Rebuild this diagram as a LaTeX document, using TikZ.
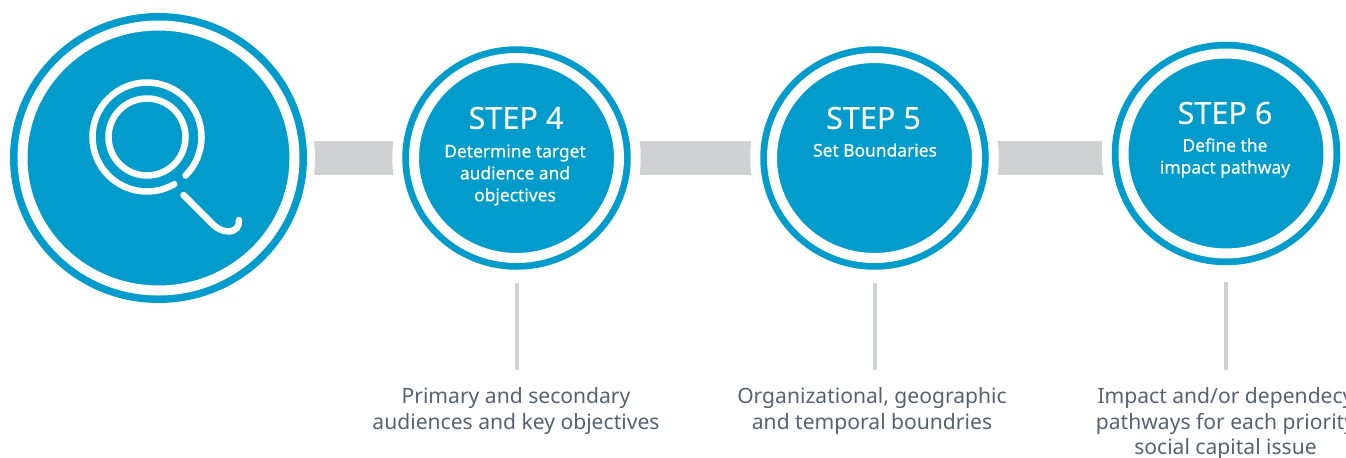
\documentclass[tikz,border=0pt]{standalone}
\usepackage{fontspec}
\usepackage{xcolor}
\usepackage{tikz}
\usetikzlibrary{backgrounds,shapes.geometric}
\setmainfont{Noto Sans}
\newfontfamily\subfont[FakeBold=0.4]{Noto Sans}
\newfontfamily\titlefont[FakeBold=0.15]{Noto Sans}
\definecolor{stepblue}{HTML}{029CCC}
\definecolor{bargray}{HTML}{D0D1D3}
\definecolor{captiongray}{HTML}{566270}
\tikzset{
	stepnode/.style={ellipse,inner sep=0,outer sep=0,minimum width=4.1cm,minimum height=4cm,fill=stepblue,draw=white,line width=0.2cm,
		preaction={draw=white,line width=0.87cm},preaction={draw=stepblue,line width=0.47cm}},
	bignode/.style={ellipse,inner sep=0,outer sep=0,minimum width=5.44cm,minimum height=5.3cm,fill=stepblue,draw=white,line width=0.2cm,
		preaction={draw=white,line width=0.82cm},preaction={draw=stepblue,line width=0.5cm}},
	linkbar/.style={bargray,line width=0.68cm},
	stemline/.style={bargray,line width=0.08cm,shorten <=0.5cm,shorten >=0.35cm},
	steptitle/.style={white,font=\titlefont\fontsize{17.4}{19}\selectfont},
	stepsub/.style={white,align=center,font=\subfont\fontsize{9.9}{12.5}\selectfont},
	captiontext/.style={captiongray,align=center,anchor=north,inner sep=0,font=\fontsize{12}{14.45}\selectfont},
	lensline/.style={white,line width=0.13cm,line cap=round}
}
\begin{document}
\begin{tikzpicture}
	\useasboundingbox (0,0) rectangle (26.92,9.14);
	% Circles
	\node [bignode] (lens) at (3.17,5.98) {};
	\node [stepnode] (stepfour) at (10.33,5.98) {};
	\node [stepnode] (stepfive) at (17.49,5.98) {};
	\node [stepnode] (stepsix) at (24.52,6.07) {};
	% Bars between the circles
	\begin{pgfonlayer}{background}
		\draw [linkbar] (lens.east) -- (stepfour.west |- lens.east);
		\draw [linkbar] (stepfour.east |- lens.east) -- (stepfive.west |- lens.east);
		\draw [linkbar] (stepfive.east |- lens.east) -- (stepsix.west |- lens.east);
	\end{pgfonlayer}
	% Magnifying glass
	\draw [lensline] (2.94,6.40) circle (0.77);
	\draw [lensline] (2.94,6.40) ++(-45:1.09) arc (-45:300:1.09);
	\draw [lensline] (3.67,5.24) -- (4.27,4.64) .. controls (4.45,4.46) and (4.80,4.45) .. (4.78,4.74);
	% Texts in the circles
	\node [steptitle] (titlefour) at (10.32,6.78) {STEP 4};
	\node [stepsub] (subfour) at (10.30,5.64) {Determine target\\audience and\\objectives};
	\node [steptitle] (titlefive) at (17.47,6.78) {STEP 5};
	\node [stepsub] (subfive) at (17.50,6.14) {Set Boundaries};
	\node [steptitle] (titlesix) at (24.50,6.88) {STEP 6};
	\node [stepsub] (subsix) at (24.50,5.98) {Define the\\impact pathway};
	% Captions
	\node [captiontext] (capfour) at (10.32,1.39) {Primary and secondary\\audiences and key objectives};
	\node [captiontext] (capfive) at (17.44,1.39) {Organizational, geographic\\and temporal boundries};
	\node [captiontext] (capsix) at (24.51,1.39) {Impact and/or dependecy\\pathways for each priority\\social capital issue};
	\draw [stemline] (stepfour.south) -- (stepfour.south |- capfour.north);
	\draw [stemline] (stepfive.south) -- (stepfive.south |- capfive.north);
	\draw [stemline,shorten <=0.57cm] (stepsix.south) -- (stepsix.south |- capsix.north);
\end{tikzpicture}
\end{document}
